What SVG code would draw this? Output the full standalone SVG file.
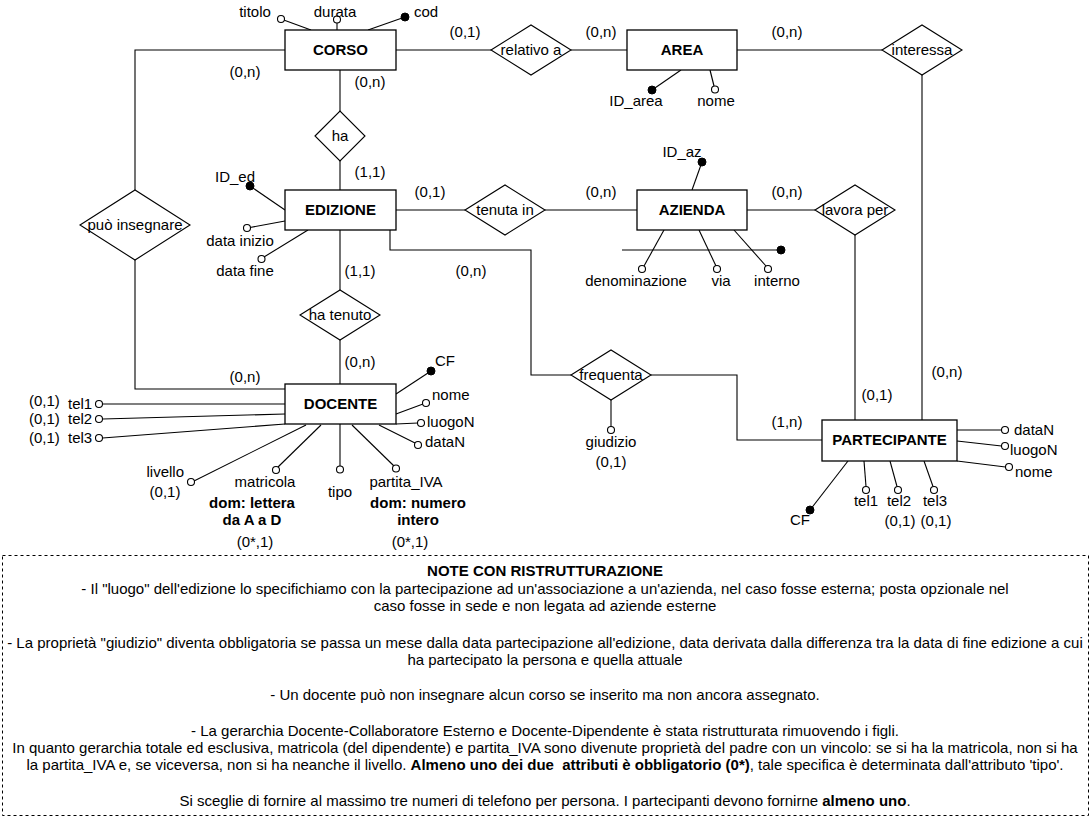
<svg xmlns="http://www.w3.org/2000/svg" width="1091" height="818" viewBox="0 0 1091 818">
<defs>
<style>
text{font-family:"Liberation Sans",Arial,sans-serif;font-size:15px;fill:#000}
.c{text-anchor:middle}
.e{text-anchor:end}
.b{font-weight:bold}
.ent rect{fill:#fff;stroke:#000;stroke-width:1.3}
.rel polygon{fill:#fff;stroke:#000;stroke-width:1.1}
.ln{fill:none;stroke:#000;stroke-width:1.1}
.oa{fill:#fff;stroke:#000;stroke-width:1.1}
.ka{fill:#000;stroke:#000;stroke-width:1}
.note{fill:#fff;stroke:#000;stroke-width:1;stroke-dasharray:3 3}
</style>
</defs>
<rect width="1091" height="818" fill="#fff"/>

<g id="connectors" class="ln">
<polyline points="285,50 135,50 135,190"/>
<polyline points="135,260 135,389 285,389"/>
<line x1="396" y1="50" x2="491" y2="50"/>
<line x1="571" y1="50" x2="627" y2="50"/>
<line x1="737" y1="50" x2="882" y2="50"/>
<line x1="922" y1="75" x2="922" y2="420"/>
<line x1="340" y1="70" x2="340" y2="111"/>
<line x1="340" y1="161" x2="340" y2="190"/>
<line x1="396" y1="210" x2="465" y2="210"/>
<line x1="545" y1="210" x2="637" y2="210"/>
<line x1="747" y1="210" x2="815" y2="210"/>
<line x1="855" y1="235" x2="855" y2="420"/>
<line x1="340" y1="230" x2="340" y2="290"/>
<line x1="340" y1="340" x2="340" y2="384"/>
<polyline points="390,230 390,250 531,250 531,375 571,375"/>
<polyline points="651,375 737,375 737,440 822,440"/>
</g>

<g id="card-labels">
<text x="245" y="77" class="c">(0,n)</text>
<text x="370" y="87" class="c">(0,n)</text>
<text x="465" y="37" class="c">(0,1)</text>
<text x="601" y="37" class="c">(0,n)</text>
<text x="787" y="37" class="c">(0,n)</text>
<text x="370" y="177" class="c">(1,1)</text>
<text x="360" y="276" class="c">(1,1)</text>
<text x="430" y="197" class="c">(0,1)</text>
<text x="601" y="197" class="c">(0,n)</text>
<text x="787" y="197" class="c">(0,n)</text>
<text x="471" y="276" class="c">(0,n)</text>
<text x="360" y="367" class="c">(0,n)</text>
<text x="245" y="382" class="c">(0,n)</text>
<text x="787" y="427" class="c">(1,n)</text>
<text x="877" y="400" class="c">(0,1)</text>
<text x="947" y="377" class="c">(0,n)</text>
</g>

<g id="corso">
<line class="ln" x1="281" y1="19" x2="311" y2="30"/>
<circle class="oa" cx="281" cy="19" r="3.5"/>
<text x="255" y="17" class="c">titolo</text>
<line class="ln" x1="337" y1="22" x2="337" y2="30"/>
<circle class="oa" cx="337" cy="19.5" r="3.5"/>
<text x="335" y="17" class="c">durata</text>
<line class="ln" x1="368" y1="30" x2="405" y2="17"/>
<circle class="ka" cx="405" cy="17" r="4"/>
<text x="426" y="17" class="c">cod</text>
<g class="ent"><rect x="285" y="30" width="111" height="40"/></g>
<text x="340.5" y="55" class="c b">CORSO</text>
</g>

<g id="area">
<line class="ln" x1="681" y1="70" x2="652" y2="90"/>
<circle class="ka" cx="652" cy="90" r="4"/>
<text x="636" y="106" class="c">ID_area</text>
<line class="ln" x1="710" y1="70" x2="714" y2="86"/>
<circle class="oa" cx="715" cy="89.5" r="3.5"/>
<text x="716" y="106" class="c">nome</text>
<g class="ent"><rect x="627" y="30" width="110" height="40"/></g>
<text x="682" y="55" class="c b">AREA</text>
</g>

<g id="edizione">
<line class="ln" x1="285" y1="210" x2="250" y2="186"/>
<circle class="ka" cx="250" cy="186" r="4"/>
<text x="235" y="182" class="c">ID_ed</text>
<line class="ln" x1="285" y1="221" x2="250" y2="227.5"/>
<circle class="oa" cx="247" cy="228" r="3.5"/>
<text x="240" y="246" class="c">data inizio</text>
<line class="ln" x1="308" y1="230" x2="264" y2="257"/>
<circle class="oa" cx="261.5" cy="259" r="3.5"/>
<text x="245" y="276" class="c">data fine</text>
<g class="ent"><rect x="285" y="190" width="111" height="40"/></g>
<text x="340.5" y="215" class="c b">EDIZIONE</text>
</g>

<g id="azienda">
<line class="ln" x1="692" y1="190" x2="702" y2="162"/>
<circle class="ka" cx="702" cy="162" r="4"/>
<text x="682" y="157" class="c">ID_az</text>
<line class="ln" x1="622" y1="250" x2="781" y2="250"/>
<circle class="ka" cx="781" cy="250" r="4"/>
<line class="ln" x1="664" y1="230" x2="644" y2="266"/>
<circle class="oa" cx="642" cy="269" r="3.5"/>
<text x="636" y="286" class="c">denominazione</text>
<line class="ln" x1="699" y1="230" x2="716" y2="266"/>
<circle class="oa" cx="717" cy="269" r="3.5"/>
<text x="721" y="286" class="c">via</text>
<line class="ln" x1="734" y1="230" x2="766" y2="266"/>
<circle class="oa" cx="768" cy="269" r="3.5"/>
<text x="777" y="286" class="c">interno</text>
<g class="ent"><rect x="637" y="190" width="110" height="40"/></g>
<text x="692" y="215" class="c b">AZIENDA</text>
</g>

<g id="docente">
<line class="ln" x1="396" y1="394" x2="431" y2="371"/>
<circle class="ka" cx="431" cy="371" r="4"/>
<text x="435" y="366">CF</text>
<line class="ln" x1="396" y1="414" x2="423" y2="404"/>
<circle class="oa" cx="426" cy="403" r="3.5"/>
<text x="432" y="400">nome</text>
<line class="ln" x1="396" y1="424" x2="418" y2="423"/>
<circle class="oa" cx="421" cy="423" r="3.5"/>
<text x="427" y="427">luogoN</text>
<line class="ln" x1="379" y1="425" x2="415" y2="443"/>
<circle class="oa" cx="418" cy="445" r="3.5"/>
<text x="425" y="447">dataN</text>
<line class="ln" x1="285" y1="404" x2="102.5" y2="404"/>
<circle class="oa" cx="99" cy="404" r="3.5"/>
<text x="68" y="409">tel1</text>
<text x="29" y="406">(0,1)</text>
<line class="ln" x1="285" y1="414" x2="102.5" y2="419"/>
<circle class="oa" cx="99" cy="419" r="3.5"/>
<text x="68" y="424">tel2</text>
<text x="29" y="424">(0,1)</text>
<line class="ln" x1="285" y1="424" x2="102.5" y2="438"/>
<circle class="oa" cx="99" cy="438" r="3.5"/>
<text x="68" y="443">tel3</text>
<text x="29" y="443">(0,1)</text>
<line class="ln" x1="306" y1="425" x2="194" y2="481"/>
<circle class="oa" cx="191" cy="482" r="3.5"/>
<text x="184" y="477" class="e">livello</text>
<text x="165" y="497" class="c">(0,1)</text>
<line class="ln" x1="321" y1="425" x2="278" y2="467"/>
<circle class="oa" cx="276" cy="470" r="3.5"/>
<text x="265" y="487" class="c">matricola</text>
<text x="252" y="508" class="c b">dom: lettera</text>
<text x="252" y="525" class="c b">da A a D</text>
<text x="255" y="547" class="c">(0*,1)</text>
<line class="ln" x1="340" y1="424" x2="340" y2="466"/>
<circle class="oa" cx="340" cy="469.5" r="3.5"/>
<text x="340" y="497" class="c">tipo</text>
<line class="ln" x1="352" y1="425" x2="394" y2="466"/>
<circle class="oa" cx="396" cy="468.5" r="3.5"/>
<text x="406" y="487" class="c">partita_IVA</text>
<text x="418" y="508" class="c b">dom: numero</text>
<text x="418" y="525" class="c b">intero</text>
<text x="410" y="547" class="c">(0*,1)</text>
<g class="ent"><rect x="285" y="384" width="111" height="40"/></g>
<text x="340.5" y="409" class="c b">DOCENTE</text>
</g>

<g id="partecipante">
<line class="ln" x1="957" y1="430" x2="1001.5" y2="430"/>
<circle class="oa" cx="1005" cy="430" r="3.5"/>
<text x="1014" y="435">dataN</text>
<line class="ln" x1="957" y1="441" x2="1001.5" y2="446"/>
<circle class="oa" cx="1005" cy="446" r="3.5"/>
<text x="1010" y="455">luogoN</text>
<line class="ln" x1="957" y1="461" x2="1005.5" y2="467"/>
<circle class="oa" cx="1009" cy="467" r="3.5"/>
<text x="1015" y="477">nome</text>
<line class="ln" x1="848" y1="461" x2="810" y2="510"/>
<circle class="ka" cx="810" cy="510" r="4"/>
<text x="800" y="525" class="c">CF</text>
<line class="ln" x1="864" y1="461" x2="866" y2="486.5"/>
<circle class="oa" cx="866" cy="490" r="3.5"/>
<text x="866" y="506" class="c">tel1</text>
<line class="ln" x1="890" y1="461" x2="897" y2="486.5"/>
<circle class="oa" cx="898" cy="490" r="3.5"/>
<text x="899" y="506" class="c">tel2</text>
<text x="900" y="526" class="c">(0,1)</text>
<line class="ln" x1="924" y1="461" x2="933" y2="486.5"/>
<circle class="oa" cx="934" cy="490" r="3.5"/>
<text x="935" y="506" class="c">tel3</text>
<text x="936" y="526" class="c">(0,1)</text>
<g class="ent"><rect x="822" y="420" width="135" height="41"/></g>
<text x="889.5" y="445" class="c b">PARTECIPANTE</text>
</g>

<g id="rel-relativo-a" class="rel"><polygon points="491,50 531,25 571,50 531,75"/><text x="531" y="55" class="c">relativo a</text></g>
<g id="rel-interessa" class="rel"><polygon points="882,50 922,25 962,50 922,75"/><text x="922" y="55" class="c">interessa</text></g>
<g id="rel-ha" class="rel"><polygon points="315,136 340,111 365,136 340,161"/><text x="340" y="141" class="c">ha</text></g>
<g id="rel-puo-insegnare" class="rel"><polygon points="80,225 135,190 190,225 135,260"/><text x="135" y="230" class="c">può insegnare</text></g>
<g id="rel-tenuta-in" class="rel"><polygon points="465,210 505,185 545,210 505,235"/><text x="505" y="215" class="c">tenuta in</text></g>
<g id="rel-lavora-per" class="rel"><polygon points="815,210 855,185 895,210 855,235"/><text x="855" y="215" class="c">lavora per</text></g>
<g id="rel-ha-tenuto" class="rel"><polygon points="300,315 340,290 380,315 340,340"/><text x="340" y="320" class="c">ha tenuto</text></g>
<g id="rel-frequenta" class="rel">
<line class="ln" x1="611" y1="400" x2="611" y2="426.5"/>
<circle class="oa" cx="611" cy="430" r="3.5"/>
<polygon points="571,375 611,350 651,375 611,400"/><text x="611" y="380" class="c">frequenta</text>
<text x="611" y="447" class="c">giudizio</text>
<text x="611" y="467" class="c">(0,1)</text>
</g>

<g id="notes">
<rect class="note" x="2.5" y="555.5" width="1086" height="260"/>
<text x="545" y="576" class="c b">NOTE CON RISTRUTTURAZIONE</text>
<text x="545" y="594" class="c">- Il "luogo" dell'edizione lo specifichiamo con la partecipazione ad un'associazione a un'azienda, nel caso fosse esterna; posta opzionale nel</text>
<text x="545" y="611" class="c">caso fosse in sede e non legata ad aziende esterne</text>
<text x="545" y="648" class="c">- La proprietà "giudizio" diventa obbligatoria se passa un mese dalla data partecipazione all'edizione, data derivata dalla differenza tra la data di fine edizione a cui</text>
<text x="545" y="665" class="c">ha partecipato la persona e quella attuale</text>
<text x="545" y="700" class="c">- Un docente può non insegnare alcun corso se inserito ma non ancora assegnato.</text>
<text x="545" y="736" class="c">- La gerarchia Docente-Collaboratore Esterno e Docente-Dipendente è stata ristrutturata rimuovendo i figli.</text>
<text x="545" y="753" class="c">In quanto gerarchia totale ed esclusiva, matricola (del dipendente) e partita_IVA sono divenute proprietà del padre con un vincolo: se si ha la matricola, non si ha</text>
<text x="545" y="770" class="c">la partita_IVA e, se viceversa, non si ha neanche il livello. <tspan class="b">Almeno uno dei due&#160; attributi è obbligatorio (0*)</tspan>, tale specifica è determinata dall'attributo 'tipo'.</text>
<text x="545" y="806" class="c">Si sceglie di fornire al massimo tre numeri di telefono per persona. I partecipanti devono fornirne <tspan class="b">almeno uno</tspan>.</text>
</g>
</svg>
